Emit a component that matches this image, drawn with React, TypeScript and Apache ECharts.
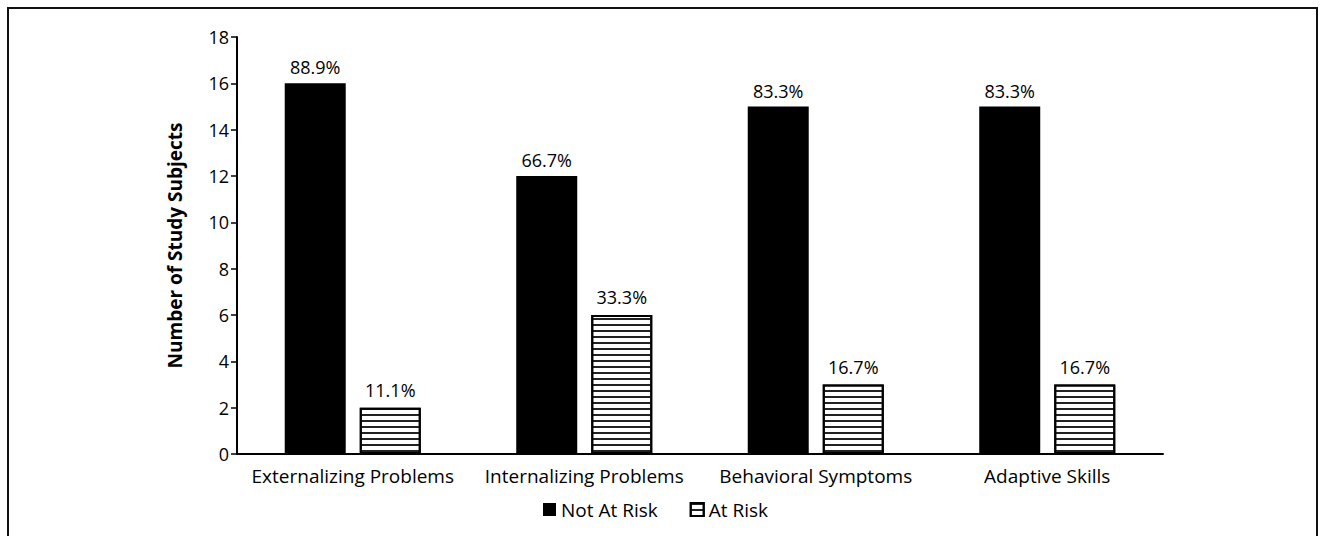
import React, { useEffect, useRef } from "react";
import * as echarts from "echarts";

const categories = [
  "Externalizing Problems",
  "Internalizing Problems",
  "Behavioral Symptoms",
  "Adaptive Skills",
];
const notAtRisk = [16, 12, 15, 15];
const atRisk = [2, 6, 3, 3];
const notAtRiskPct = ["88.9%", "66.7%", "83.3%", "83.3%"];
const atRiskPct = ["11.1%", "33.3%", "16.7%", "16.7%"];
const yTicks = { min: 0, max: 18, interval: 2 };

const FONT = "'Open Sans', 'Noto Sans', sans-serif";

export default function App() {
  const ref = useRef<HTMLDivElement>(null);
  useEffect(() => {
    if (!ref.current) return;
    const chart = echarts.init(ref.current, null, { renderer: "svg" });
    const decal = {
      symbol: "rect",
      symbolSize: 1,
      dashArrayX: [1, 0],
      dashArrayY: [2, 4],
      color: "#222",
      backgroundColor: "#fff",
      rotation: 0,
    };
    chart.setOption({
      animation: false,
      textStyle: { fontFamily: FONT },
      grid: { left: 237, right: 158, top: 37, bottom: 82, containLabel: false },
      graphic: [
        {
          type: "rect",
          shape: { x: 8, y: 8, width: 1309, height: 600 },
          style: { fill: "none", stroke: "#111", lineWidth: 2 },
          silent: true,
        },
      ],
      legend: {
        left: 538,
        top: 495,
        itemWidth: 13,
        itemHeight: 13,
        itemGap: 32,
        textStyle: { fontSize: 19, color: "#000", fontFamily: FONT },
        data: [
          { name: "Not At Risk", icon: "rect" },
          { name: "At Risk", icon: "rect" },
        ],
      },
      xAxis: {
        type: "category",
        data: categories,
        axisLine: { lineStyle: { color: "#000", width: 2 } },
        axisTick: { show: false },
        axisLabel: { interval: 0, fontSize: 19, color: "#000", margin: 12, fontFamily: FONT },
      },
      yAxis: {
        type: "value",
        min: yTicks.min,
        max: yTicks.max,
        interval: yTicks.interval,
        name: "Number of Study Subjects",
        nameLocation: "middle",
        nameGap: 53,
        nameTextStyle: { fontSize: 19, fontWeight: "bold", color: "#000", fontFamily: FONT },
        axisLine: { show: true, lineStyle: { color: "#000", width: 2 } },
        axisTick: { show: true, length: 6, lineStyle: { color: "#000", width: 1.5 } },
        axisLabel: { fontSize: 18, color: "#000", margin: 8, fontFamily: FONT },
        splitLine: { show: false },
      },
      series: [
        {
          name: "Not At Risk",
          type: "bar",
          data: notAtRisk,
          barWidth: 61,
          barGap: "23%",
          itemStyle: { color: "#000" },
          label: {
            show: true,
            position: "top",
            distance: 7,
            fontSize: 18,
            color: "#000",
            fontFamily: FONT,
            formatter: (p: any) => notAtRiskPct[p.dataIndex],
          },
        },
        {
          name: "At Risk",
          type: "bar",
          data: atRisk,
          barWidth: 61,
          itemStyle: { color: "#fff", borderColor: "#000", borderWidth: 2, decal },
          label: {
            show: true,
            position: "top",
            distance: 9,
            fontSize: 18,
            color: "#000",
            fontFamily: FONT,
            formatter: (p: any) => atRiskPct[p.dataIndex],
          },
        },
      ],
    });
    return () => chart.dispose();
  }, []);
  return (
    <div
      ref={ref}
      style={{ position: "absolute", left: 0, top: 0, width: 1321, height: 536, background: "#fff" }}
    />
  );
}
